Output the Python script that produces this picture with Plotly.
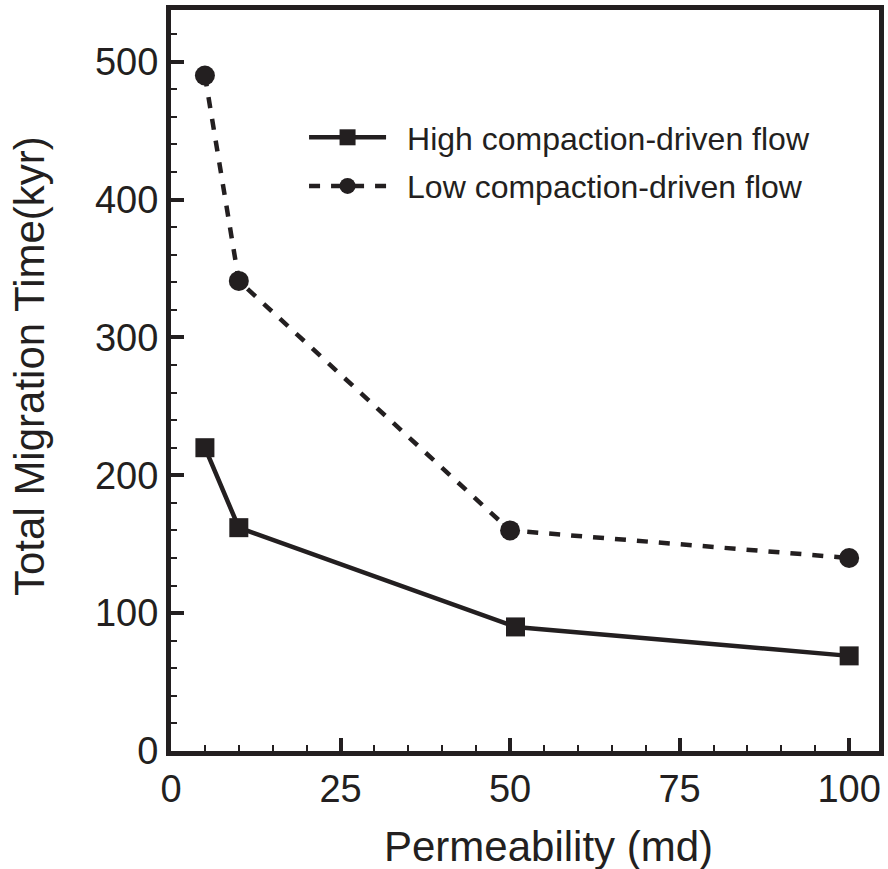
import plotly.graph_objects as go

permeability = [5, 10, 50.8, 100]
high_flow = [220, 162, 90, 69]
perm_low = [5, 10, 50, 100]
low_flow = [490, 341, 160, 140]

x_ticks = [0, 25, 50, 75, 100]
y_ticks = [0, 100, 200, 300, 400, 500]

INK = "#231f20"
FONT = "Liberation Sans, Arial, Helvetica, sans-serif"

fig = go.Figure()
fig.add_trace(go.Scatter(
    x=permeability, y=high_flow, mode="lines+markers",
    name="\u2002High compaction-driven flow", legendgroup="a",
    line=dict(color=INK, width=4.5),
    marker=dict(symbol="square", size=19, color=INK),
))
fig.add_trace(go.Scatter(
    x=perm_low, y=low_flow, mode="lines+markers",
    name="\u2002Low compaction-driven flow", legendgroup="b",
    line=dict(color=INK, width=4.5, dash="11px,11px"),
    marker=dict(symbol="circle", size=20, color=INK),
))

L, R, T, B = 171, 4, 10, 118
W, H = 888, 869
pw = W - L - R
ph = H - T - B

axis_common = dict(
    showgrid=False, zeroline=False,
    showline=True, linewidth=5, linecolor=INK, mirror=True,
    ticks="inside", ticklen=13, tickwidth=4, tickcolor=INK,
    tickfont=dict(family=FONT, size=38, color=INK),
)

fig.update_xaxes(
    range=[0, 104.4], tickvals=x_ticks, ticktext=[str(v) for v in x_ticks],
    minor=dict(dtick=5, ticks="inside", ticklen=6, tickwidth=1.5, tickcolor=INK, tick0=0),
    **axis_common,
)
fig.update_yaxes(
    range=[0, 537.5], tickvals=y_ticks, ticktext=[str(v) for v in y_ticks],
    minor=dict(dtick=20, ticks="inside", ticklen=6, tickwidth=1.5, tickcolor=INK, tick0=0),
    **axis_common,
)

fig.add_annotation(
    text="Permeability (md)", xref="paper", yref="paper",
    x=(551 - L) / pw, y=(H - B - 847) / ph, xanchor="center", yanchor="middle",
    showarrow=False, font=dict(family=FONT, size=42, color=INK),
)
fig.add_annotation(
    text="Total Migration Time(kyr)", xref="paper", yref="paper",
    x=(28 - L) / pw, y=(H - B - 366) / ph, xanchor="center", yanchor="middle",
    textangle=-90, showarrow=False, font=dict(family=FONT, size=42, color=INK),
)

fig.update_layout(
    width=W, height=H,
    margin=dict(l=L, r=R, t=T, b=B),
    paper_bgcolor="white", plot_bgcolor="white",
    showlegend=True,
    legend=dict(
        x=(305 - L) / pw, y=(H - B - 110) / ph, xanchor="left", yanchor="top",
        font=dict(family=FONT, size=32, color=INK),
        bgcolor="rgba(0,0,0,0)", borderwidth=0,
        itemwidth=77, tracegroupgap=4,
    ),
)

fig.write_html("out.html")
